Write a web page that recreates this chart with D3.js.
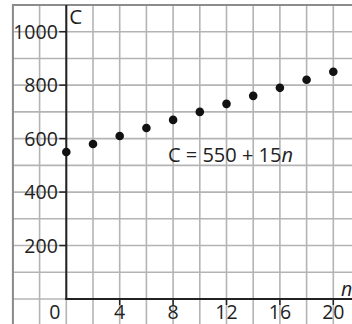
<!DOCTYPE html>
<html>
<head>
<meta charset="utf-8">
<script src="https://cdn.jsdelivr.net/npm/d3@7"></script>
<style>
  body { margin: 0; background: #fff; }
  svg { display: block; }
  text { font-family: "Open Sans", sans-serif; fill: #222; }
</style>
</head>
<body>
<svg id="chart" width="352" height="324"></svg>
<script>
// data
var nValues = [0, 2, 4, 6, 8, 10, 12, 14, 16, 18, 20];
var costValues = [550, 580, 610, 640, 670, 700, 730, 760, 790, 820, 850];
var xTickLabels = [4, 8, 12, 16, 20];
var yTickLabels = [200, 400, 600, 800, 1000];
var gridN = d3.range(-4, 24, 2);
var gridC = d3.range(-100, 1200, 100);

var svg = d3.select("#chart"),
  width = +svg.attr("width"),
  height = +svg.attr("height");

var x = d3.scaleLinear().domain([0, 20]).range([66.3, 333.3]);
var y = d3.scaleLinear().domain([0, 1000]).range([299, 31.7]);

var gridLeft = x(-4), gridTop = y(1100);
var fontSize = 19.5;

svg.append("defs").append("clipPath").attr("id", "gridClip")
  .append("rect")
  .attr("x", gridLeft).attr("y", gridTop)
  .attr("width", width - gridLeft).attr("height", height - gridTop);

var grid = svg.append("g").attr("clip-path", "url(#gridClip)");

grid.selectAll("line.v")
  .data(gridN)
  .enter()
  .append("line")
  .attr("class", "v")
  .attr("x1", function(d) { return x(d); })
  .attr("x2", function(d) { return x(d); })
  .attr("y1", gridTop)
  .attr("y2", height)
  .attr("stroke", "#b4b4b4")
  .attr("stroke-width", 1.6);

grid.selectAll("line.h")
  .data(gridC)
  .enter()
  .append("line")
  .attr("class", "h")
  .attr("x1", gridLeft)
  .attr("x2", width)
  .attr("y1", function(d) { return y(d); })
  .attr("y2", function(d) { return y(d); })
  .attr("stroke", "#b4b4b4")
  .attr("stroke-width", 1.6);

// outer border (top and left)
svg.append("path")
  .attr("d", "M" + gridLeft + "," + height + "V" + gridTop + "H" + width)
  .attr("fill", "none")
  .attr("stroke", "#8c8c8c")
  .attr("stroke-width", 2);

// axes
svg.append("line")
  .attr("x1", x(0)).attr("x2", x(0))
  .attr("y1", gridTop).attr("y2", y(0) + 1)
  .attr("stroke", "#222").attr("stroke-width", 2);

svg.append("line")
  .attr("x1", x(0) - 1).attr("x2", width)
  .attr("y1", y(0)).attr("y2", y(0))
  .attr("stroke", "#222").attr("stroke-width", 2);

// y ticks
svg.selectAll("line.ytick")
  .data(yTickLabels)
  .enter()
  .append("line")
  .attr("class", "ytick")
  .attr("x1", x(0) - 7).attr("x2", x(0))
  .attr("y1", function(d) { return y(d); })
  .attr("y2", function(d) { return y(d); })
  .attr("stroke", "#222").attr("stroke-width", 1.5);

svg.selectAll("text.ylabel")
  .data(yTickLabels)
  .enter()
  .append("text")
  .attr("class", "ylabel")
  .attr("x", x(0) - 8.5)
  .attr("y", function(d) { return y(d) + 7.2; })
  .attr("text-anchor", "end")
  .attr("font-size", fontSize)
  .text(function(d) { return d; });

// x ticks
svg.selectAll("line.xtick")
  .data(xTickLabels)
  .enter()
  .append("line")
  .attr("class", "xtick")
  .attr("x1", function(d) { return x(d); })
  .attr("x2", function(d) { return x(d); })
  .attr("y1", y(0)).attr("y2", y(0) + 6)
  .attr("stroke", "#222").attr("stroke-width", 1.5);

svg.selectAll("text.xlabel")
  .data(xTickLabels)
  .enter()
  .append("text")
  .attr("class", "xlabel")
  .attr("x", function(d) { return x(d); })
  .attr("y", y(0) + 20)
  .attr("text-anchor", "middle")
  .attr("font-size", fontSize)
  .text(function(d) { return d; });

svg.append("text")
  .attr("x", x(0) - 11.5)
  .attr("y", y(0) + 20)
  .attr("text-anchor", "middle")
  .attr("font-size", fontSize)
  .text("0");

// axis names
svg.append("text")
  .attr("x", x(0) + 3)
  .attr("y", 24)
  .attr("font-size", 20.5)
  .text("C");

svg.append("text")
  .attr("x", width - 11)
  .attr("y", y(0) - 3)
  .attr("font-size", fontSize)
  .attr("font-style", "italic")
  .text("n");

// points
svg.selectAll("circle")
  .data(nValues)
  .enter()
  .append("circle")
  .attr("cx", function(d) { return x(d); })
  .attr("cy", function(d, i) { return y(costValues[i]); })
  .attr("r", 4.3)
  .attr("fill", "#111");

// equation label
var eq = svg.append("text")
  .attr("x", 168)
  .attr("y", 161.5)
  .attr("font-size", 20);
eq.append("tspan").text("C = 550 + 15");
eq.append("tspan").attr("font-style", "italic").text("n");
</script>
</body>
</html>
